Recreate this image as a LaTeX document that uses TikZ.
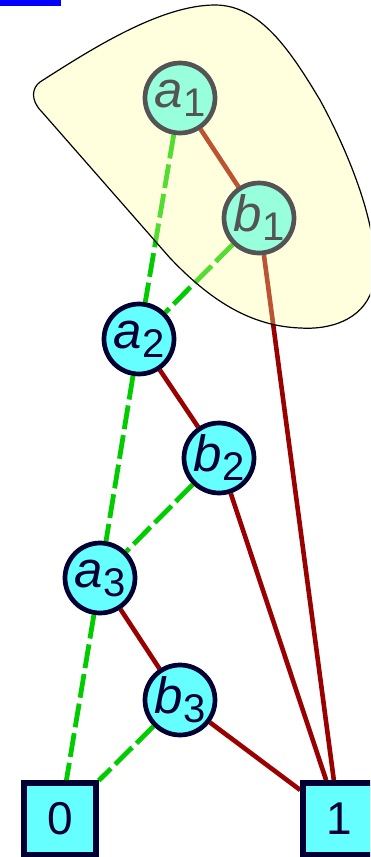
\documentclass[tikz,border=0pt]{standalone}
\usepackage{fontspec}
\setmainfont{Liberation Sans}
\pgfdeclarelayer{background}
\pgfsetlayers{background,main}
\definecolor{nodefill}{HTML}{66FFFF}
\definecolor{navy}{HTML}{000033}
\definecolor{hiedge}{HTML}{990000}
\definecolor{loedge}{HTML}{00CC00}
\definecolor{blobfill}{HTML}{FFFF99}
\newcommand{\lbl}[2]{\textit{#1}\raisebox{-9pt}{\fontsize{40}{40}\selectfont #2}}
\tikzset{
  vnode/.style={circle, draw=navy, fill=nodefill, line width=4.7pt, minimum size=70pt, inner sep=0pt, text=navy, font=\fontsize{51}{51}\selectfont},
  tnode/.style={rectangle, draw=navy, fill=nodefill, line width=5.5pt, minimum size=72pt, inner sep=0pt, text=navy, font=\fontsize{46}{46}\selectfont},
  hiline/.style={draw=hiedge, line width=4.6pt},
  loline/.style={draw=loedge, line width=4.8pt, dash pattern=on 24pt off 6pt},
  blob/.style={fill=blobfill, fill opacity=0.33, draw=black, line width=1.2pt}
}
\begin{document}
\begin{tikzpicture}[x=1pt,y=-1pt]
\useasboundingbox (0,0) rectangle (370,857);
\clip (0,0) rectangle (370,857);
\fill[blue] (0,0) rectangle (61,6);
\node[vnode] (a1) at (180,98) {\lbl{a}{1}};
\node[vnode] (b1) at (259,218) {\lbl{b}{1}};
\node[vnode] (a2) at (139,339) {\lbl{a}{2}};
\node[vnode] (b2) at (219,458) {\lbl{b}{2}};
\node[vnode] (a3) at (100,578) {\lbl{a}{3}};
\node[vnode] (b3) at (180,700) {\lbl{b}{3}};
\node[tnode] (t0) at (60,819) {0};
\node[tnode] (t1) at (339,819) {1};
\begin{pgfonlayer}{background}
\draw[hiline] (a1) -- (b1);
\draw[loline] (a1) -- (a2);
\draw[loline] (b1) -- (a2);
\draw[hiline] (b1) -- (t1);
\draw[hiline] (a2) -- (b2);
\draw[loline] (a2) -- (a3);
\draw[loline] (b2) -- (a3);
\draw[hiline] (b2) -- (t1);
\draw[hiline] (a3) -- (b3);
\draw[loline] (a3) -- (t0);
\draw[loline] (b3) -- (t0);
\draw[hiline] (b3) -- (t1);
\end{pgfonlayer}
\path[blob] (40,82) .. controls (90,50) and (160,5) .. (215,5)
  .. controls (260,5) and (290,50) .. (320,100)
  .. controls (350,155) and (385,240) .. (372,290)
  .. controls (362,320) and (330,330) .. (300,328)
  .. controls (250,326) and (210,300) .. (170,258)
  -- (42,112) .. controls (30,100) and (32,88) .. (40,82) -- cycle;
\end{tikzpicture}
\end{document}
